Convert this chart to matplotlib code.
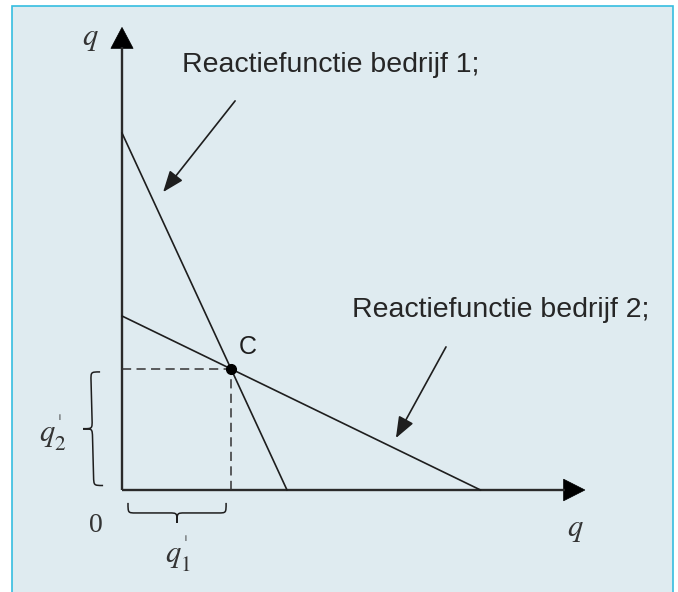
import numpy as np
import matplotlib
matplotlib.use("Agg")
import matplotlib.pyplot as plt
from matplotlib.patches import Polygon, Rectangle, PathPatch
from matplotlib.path import Path

plt.rcParams['mathtext.fontset'] = 'stix'

# reaction functions (end points on the axes)
rf1_q1 = [0.0, 5.5]
rf1_q2 = [11.9, 0.0]
rf2_q1 = [0.0, 11.95]
rf2_q2 = [5.8, 0.0]

label_rf1 = "Reactiefunctie bedrijf 1;"
label_rf2 = "Reactiefunctie bedrijf 2;"

# equilibrium C = intersection of the two lines
s1 = rf1_q2[0] / rf1_q1[1]
s2 = rf2_q2[0] / rf2_q1[1]
q1_eq = (rf1_q2[0] - rf2_q2[0]) / (s1 - s2)
q2_eq = rf1_q2[0] - s1 * q1_eq

INK = '#1e1e1e'
LBL = '#333333'
BG = '#dfebf0'
EDGE = '#35bde0'


def brace(ax, p0, p1, depth, normal):
    # curly brace from p0 to p1, tip pointing along normal
    p0 = np.asarray(p0, float)
    p1 = np.asarray(p1, float)
    t = p1 - p0
    L = np.hypot(*t)
    t = t / L
    n = np.asarray(normal, float)
    a = 0.08 * L
    d = depth
    uv = [(0, 0), (0, d / 2), (0, d / 2), (a, d / 2),
          (L / 2 - a, d / 2),
          (L / 2, d / 2), (L / 2, d / 2), (L / 2, d),
          (L / 2, d / 2), (L / 2, d / 2), (L / 2 + a, d / 2),
          (L - a, d / 2),
          (L, d / 2), (L, d / 2), (L, 0)]
    codes = [Path.MOVETO, Path.CURVE4, Path.CURVE4, Path.CURVE4,
             Path.LINETO,
             Path.CURVE4, Path.CURVE4, Path.CURVE4,
             Path.CURVE4, Path.CURVE4, Path.CURVE4,
             Path.LINETO,
             Path.CURVE4, Path.CURVE4, Path.CURVE4]
    verts = [p0 + u * t + v * n for u, v in uv]
    ax.add_patch(PathPatch(Path(verts, codes), fc='none', ec=INK, lw=1.1))


fig = plt.figure(figsize=(6.78, 5.92), dpi=100)
fig.patch.set_facecolor('white')
fig.patches.append(Rectangle((12 / 678, -0.02), 661 / 678, 1.02 - 6 / 592,
                             transform=fig.transFigure, fc=BG, ec=EDGE,
                             lw=1.2, zorder=-5))

ax = fig.add_axes([0, 0, 1, 1])
ax.set_xlim(-122 / 30, 556 / 30)
ax.set_ylim(-102 / 30, 490 / 30)
ax.axis('off')
ax.patch.set_alpha(0)

# axes with arrow heads
ax.plot([0, 0], [0, 14.75], color='#2a2a2a', lw=1.7, solid_capstyle='butt')
ax.plot([0, 14.75], [0, 0], color='#2a2a2a', lw=1.7, solid_capstyle='butt')
ax.add_patch(Polygon([(-0.37, 14.72), (0.37, 14.72), (0, 15.42)], closed=True,
                     fc='black', ec='black', lw=0.5))
ax.add_patch(Polygon([(14.72, -0.36), (14.72, 0.36), (15.43, 0)], closed=True,
                     fc='black', ec='black', lw=0.5))

# reaction functions
ax.plot(rf1_q1, rf1_q2, color=INK, lw=1.2)
ax.plot(rf2_q1, rf2_q2, color=INK, lw=1.2)

# dashed guides to the equilibrium
ax.plot([0, q1_eq], [q2_eq, q2_eq], color=LBL, lw=1.1, ls=(0, (6, 3.5)))
ax.plot([q1_eq, q1_eq], [0, q2_eq], color=LBL, lw=1.1, ls=(0, (6, 3.5)))
ax.plot([q1_eq], [q2_eq], 'o', color='black', ms=7)
ax.text(q1_eq + 0.55, q2_eq + 0.72, "C", fontsize=18, family='Liberation Sans',
        ha='center', va='center', color=INK)

# labels with arrows
ax.text(2.0, 14.17, label_rf1, fontsize=20.5, family='Liberation Sans',
        ha='left', va='center', color='#262626')
ax.text(7.67, 6.0, label_rf2, fontsize=20.5, family='Liberation Sans',
        ha='left', va='center', color='#262626')
arrow_kw = dict(arrowstyle='-|>,head_length=1.3,head_width=0.5', color=INK,
                lw=1.2, shrinkA=0, shrinkB=0)
ax.annotate('', xy=(1.37, 9.93), xytext=(3.77, 12.97), arrowprops=arrow_kw)
ax.annotate('', xy=(9.13, 1.73), xytext=(10.8, 4.77), arrowprops=arrow_kw)

# axis labels
ax.text(-1.07, 15.05, r"$q$", fontsize=22, ha='center', va='center', color=LBL)
ax.text(15.1, -1.3, r"$q$", fontsize=22, ha='center', va='center', color=LBL)
ax.text(-0.87, -1.17, "0", fontsize=20, family='Liberation Serif',
        ha='center', va='center', color=LBL)
ax.text(-2.3, 1.9, r"$q_2^{ˈ}$", fontsize=22, ha='center', va='center', color=LBL)
ax.text(1.85, -2.15, r"$q_1^{ˈ}$", fontsize=22, ha='center', va='center', color=LBL)

# braces
brace(ax, (-0.73, q2_eq - 0.1), (-0.63, 0.15), 0.62, (-1, 0))
brace(ax, (0.2, -0.43), (3.47, -0.43), 0.67, (0, -1))

fig.savefig("out.png", dpi=100)
